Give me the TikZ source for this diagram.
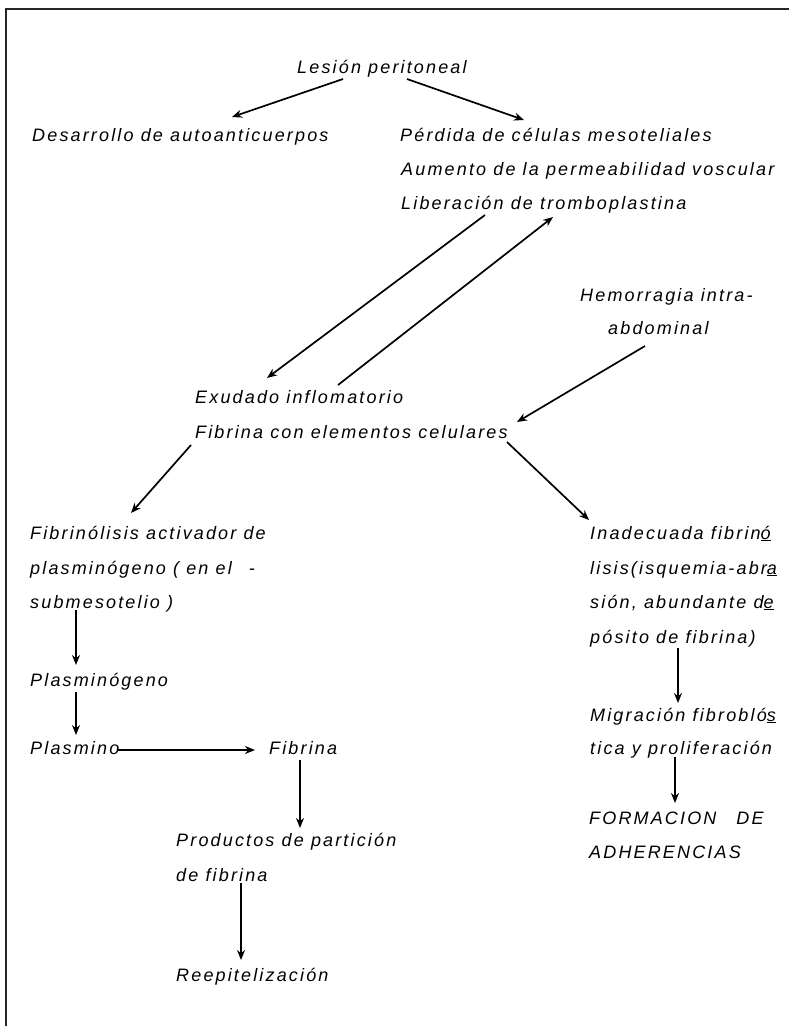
\documentclass[tikz,border=0pt]{standalone}
\usepackage{fontspec}
\setmainfont{Liberation Sans}[LetterSpace=12]
\usetikzlibrary{arrows.meta,calc}
\tikzset{
  txt/.style={anchor=base west, inner sep=0pt, font=\itshape\fontsize{18}{20}\selectfont},
  arr/.style={-{Stealth[length=10pt,width=8pt]}, line width=1.7pt},
  frameline/.style={line width=1.3pt, black!85}
}
\begin{document}
\begin{tikzpicture}[x=1pt,y=-1pt]
\useasboundingbox (0,0) rectangle (789,1026);
% frame
\coordinate (fr1) at (789,9);
\coordinate (fr2) at (6,9);
\coordinate (fr3) at (6,1026);
\draw[frameline] (fr1) -- (fr2) -- (fr3);
% texts
\node[txt] (les) at (297,73) {Lesión peritoneal};
\node[txt] (des) at (32,141) {Desarrollo de autoanticuerpos};
\node[txt] (per) at (400,141) {Pérdida de células mesoteliales};
\node[txt] (aum) at (401,175) {Aumento de la permeabilidad voscular};
\node[txt] (lib) at (401,209) {Liberación de tromboplastina};
\node[txt] (hem) at (580,301) {Hemorragia intra-};
\node[txt] (abd) at (608,334) {abdominal};
\node[txt] (exu) at (195,403) {Exudado inflomatorio};
\node[txt] (fcel) at (195,438) {Fibrina con elementos celulares};
\node[txt] (fib1) at (30,539) {Fibrinólisis activador de};
\node[txt] (fib2) at (30,574) {plasminógeno ( en el \hspace{10pt}-};
\node[txt] (sub) at (30,608) {submesotelio )};
\node[txt] (plg) at (30,686) {Plasminógeno};
\node[txt] (plm) at (30,754) {Plasmino};
\node[txt] (fibr) at (269,754) {Fibrina};
\node[txt] (prod) at (176,846) {Productos de partición};
\node[txt] (defib) at (176,881) {de fibrina};
\node[txt] (reep) at (176,981) {Reepitelización};
\node[txt] (ina1) at (590,539) {Inadecuada fibrin\underline{ó}};
\node[txt] (ina2) at (590,574) {lisis(isquemia-abr\underline{a}};
\node[txt] (ina3) at (590,608) {sión, abundante d\underline{e}};
\node[txt] (pos) at (590,643) {pósito de fibrina)};
\node[txt] (mig) at (590,721) {Migración fibrobló\underline{s}};
\node[txt] (tica) at (590,754) {tica y proliferación};
\node[txt] (form) at (589,824) {FORMACION\hspace{20pt}DE};
\node[txt] (adh) at (589,858) {ADHERENCIAS};
% connectors
\draw[arr] ($(les.base west)+(46,6)$) -- ($(des.base west)+(200,-24)$);
\draw[arr] ($(les.base west)+(110,6)$) -- ($(per.base west)+(124,-21)$);
\draw[arr] ($(lib.base west)+(84,6)$) -- ($(exu.base west)+(72,-25)$);
\draw[arr] ($(exu.base west)+(143,-18)$) -- ($(lib.base west)+(152,8)$);
\draw[arr] ($(abd.base west)+(37,12)$) -- ($(fcel.base west)+(322,-16)$);
\draw[arr] ($(fcel.base west)+(-4,7)$) -- ($(fib1.base west)+(101,-26)$);
\draw[arr] ($(fcel.base west)+(312,4)$) -- ($(ina1.base west)+(-1,-19)$);
\draw[arr] ($(sub.base west)+(46,2)$) -- ($(plg.base west)+(46,-21)$);
\draw[arr] ($(plg.base west)+(46,6)$) -- ($(plm.base west)+(46,-19)$);
\draw[arr] ($(plm.base west)+(87,-4)$) -- ($(fibr.base west)+(-14,-4)$);
\draw[arr] ($(fibr.base west)+(31,6)$) -- ($(prod.base west)+(124,-18)$);
\draw[arr] ($(defib.base west)+(65,2)$) -- ($(reep.base west)+(65,-21)$);
\draw[arr] ($(pos.base west)+(88,5)$) -- ($(mig.base west)+(88,-18)$);
\draw[arr] ($(tica.base west)+(85,3)$) -- ($(form.base west)+(86,-21)$);
\end{tikzpicture}
\end{document}
